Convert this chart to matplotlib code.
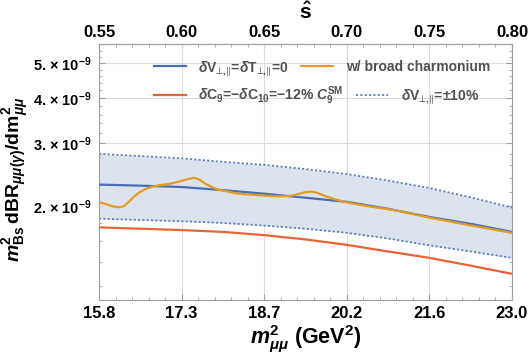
import matplotlib
matplotlib.use("Agg")
import matplotlib.pyplot as plt
import numpy as np

plt.rcParams['font.family'] = ['Liberation Sans', 'DejaVu Sans']
plt.rcParams['mathtext.fontset'] = 'custom'
plt.rcParams['mathtext.rm'] = 'Liberation Sans:bold'
plt.rcParams['mathtext.bf'] = 'Liberation Sans:bold'
plt.rcParams['mathtext.it'] = 'Liberation Sans:italic:bold'
plt.rcParams['mathtext.bfit'] = 'Liberation Sans:italic:bold'
plt.rcParams['mathtext.sf'] = 'Liberation Sans:bold'
plt.rcParams['mathtext.fallback'] = 'stixsans'

MBS2 = 28.8
# data (values in units of 1e-9)
x_band = [15.84, 16.56, 17.28, 18.0, 18.72, 19.44, 20.16, 20.88, 21.6, 22.32, 23.04]
sm_central = [2.30, 2.285, 2.265, 2.22, 2.17, 2.115, 2.06, 1.97, 1.87, 1.79, 1.70]
band_upper = [2.80, 2.76, 2.72, 2.66, 2.61, 2.54, 2.46, 2.36, 2.25, 2.12, 1.985]
band_lower = [1.85, 1.835, 1.82, 1.80, 1.77, 1.735, 1.69, 1.63, 1.56, 1.50, 1.44]
np_c9c10 = [1.75, 1.735, 1.72, 1.70, 1.665, 1.62, 1.565, 1.50, 1.44, 1.37, 1.30]

x_charm = [15.84, 15.956, 16.072, 16.189, 16.276, 16.363, 16.45, 16.537, 16.654, 16.77,
           16.886, 17.06, 17.235, 17.38, 17.496, 17.583, 17.70, 17.816, 17.932, 18.106,
           18.211, 18.386, 18.56, 18.734, 18.909, 19.083, 19.199, 19.315, 19.432, 19.536,
           19.635, 19.78, 19.954, 20.129, 20.303, 20.478, 20.652, 21.0, 21.6, 22.32, 23.04]
charm = [2.054, 2.032, 2.003, 1.990, 2.003, 2.062, 2.129, 2.185, 2.237, 2.270,
         2.290, 2.310, 2.344, 2.380, 2.401, 2.380, 2.310, 2.261, 2.222, 2.199,
         2.176, 2.162, 2.153, 2.143, 2.135, 2.135, 2.143, 2.166, 2.190, 2.199,
         2.185, 2.139, 2.094, 2.058, 2.032, 2.010, 1.990, 1.952, 1.862, 1.772, 1.690]

shat_ticks = [0.55, 0.60, 0.65, 0.70, 0.75, 0.80]
shat_labels = ["0.55", "0.60", "0.65", "0.70", "0.75", "0.80"]
m2_labels = ["15.8", "17.3", "18.7", "20.2", "21.6", "23.0"]
y_major = [2, 3, 4, 5]
y_major_labels = [r"2. × 10$^{-9}$", r"3. × 10$^{-9}$", r"4. × 10$^{-9}$", r"5. × 10$^{-9}$"]
y_minor = [1.2, 1.4, 1.6, 1.8, 2.2, 2.4, 2.6, 2.8, 3.2, 3.4, 3.6, 3.8, 4.2, 4.4, 4.6, 4.8, 5.2, 5.4]

BLUE = '#4a6fb0'
ORANGE = '#e19c24'
RED = '#eb6235'
FILL = '#dde3ee'
DOT = '#5e81c0'

sc = 1e-9
fig = plt.figure(figsize=(5.32, 3.54), dpi=100)
ax = fig.add_axes([99/532, 1-300/354, 413/532, 256/354])
ax.set_yscale('log')

xb = np.array(x_band)
ax.fill_between(xb, np.array(band_lower)*sc, np.array(band_upper)*sc, color=FILL, lw=0, zorder=1)
l_dot, = ax.plot(xb, np.array(band_upper)*sc, color=DOT, lw=1.3, ls=(0, (1.2, 1.2)), zorder=2)
ax.plot(xb, np.array(band_lower)*sc, color=DOT, lw=1.3, ls=(0, (1.2, 1.2)), zorder=2)
l_blue, = ax.plot(xb, np.array(sm_central)*sc, color=BLUE, lw=1.6, zorder=3)
l_red, = ax.plot(xb, np.array(np_c9c10)*sc, color=RED, lw=1.6, zorder=3)
l_or, = ax.plot(x_charm, np.array(charm)*sc, color=ORANGE, lw=1.6, zorder=4,
                solid_joinstyle='round', solid_capstyle='round')

ax.set_xlim(0.55*MBS2, 0.80*MBS2)
ax.set_ylim(1.10e-9, 5.65e-9)

xt = [s*MBS2 for s in shat_ticks]
ax.set_xticks(xt)
ax.set_xticklabels(m2_labels)
ax.set_yticks([v*sc for v in y_major])
ax.set_yticklabels(y_major_labels)
ax.set_yticks([v*sc for v in y_minor], minor=True)
ax.yaxis.set_minor_formatter(matplotlib.ticker.NullFormatter())
ax.xaxis.set_minor_locator(matplotlib.ticker.AutoMinorLocator(5))

ax.grid(True, which='major', color='#dcdcdc', lw=0.8, zorder=0)
ax.set_axisbelow(True)

for s in ax.spines.values():
    s.set_color('#a0a0a0')
    s.set_linewidth(0.8)

ax.tick_params(axis='both', which='both', direction='in', color='#a0a0a0',
               top=False, right=True)
ax.tick_params(axis='both', which='major', length=4, pad=4)
ax.tick_params(axis='x', which='major', labelsize=12)
ax.tick_params(axis='y', which='major', labelsize=10.5, pad=5)
ax.tick_params(axis='both', which='minor', length=2.5)
for lab in ax.get_xticklabels() + ax.get_yticklabels():
    lab.set_fontweight('bold')

top = ax.secondary_xaxis('top', functions=(lambda x: x/MBS2, lambda s: s*MBS2))
top.set_xticks(shat_ticks)
top.set_xticklabels(shat_labels)
top.xaxis.set_minor_locator(matplotlib.ticker.AutoMinorLocator(5))
top.tick_params(axis='x', which='both', direction='in', color='#a0a0a0', labelsize=12, pad=3)
top.tick_params(axis='x', which='major', length=4)
top.tick_params(axis='x', which='minor', length=2.5)
for lab in top.get_xticklabels():
    lab.set_fontweight('bold')
top.spines['top'].set_color('#a0a0a0')
top.set_xlabel(r"$\hat{\mathbf{s}}$", fontsize=15, labelpad=4)

ax.set_xlabel(r"$\mathbfit{m}^{2}_{\mu\mu}$ (GeV$^{2}$)", fontsize=15.5, fontweight='bold', labelpad=2)
ylab = ax.set_ylabel(r"$\mathbfit{m}^{2}_{\mathbf{Bs}}\,\mathbf{dBR}_{\mu\mu(\gamma)}/\mathbf{dm}^{2}_{\mu\mu}$",
                     fontsize=14)
ax.yaxis.set_label_coords(-0.165, 0.47)

lab1 = r"$\delta$V$_{⊥,\!∥}$=$\delta$T$_{⊥,\!∥}$=0"
lab2 = "w/ broad charmonium"
lab3 = r"$\delta$C$_{9}$=$-\delta$C$_{10}$=$-$12% $C_{9}^{\mathrm{SM}}$"
lab4 = r"$\delta$V$_{⊥,\!∥}$=±10%"

kw = dict(frameon=False, ncol=2, handlelength=2.3, handletextpad=0.9,
          columnspacing=0.9, borderpad=0, borderaxespad=0, labelcolor='#505050',
          prop={'weight': 'bold', 'size': 10})
leg1 = ax.legend([l_blue, l_or], [lab1, lab2], loc='center left',
                 bbox_to_anchor=(0.133, 0.906), **kw)
ax.add_artist(leg1)
leg2 = ax.legend([l_red, l_dot], [lab3, lab4], loc='center left',
                 bbox_to_anchor=(0.133, 0.797), **kw)

fig.savefig("out.png", dpi=100)
